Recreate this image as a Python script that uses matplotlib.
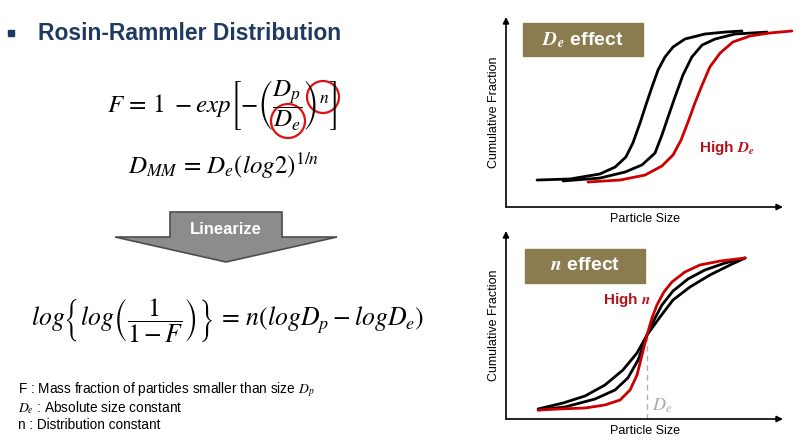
import matplotlib
matplotlib.use('Agg')
import matplotlib.pyplot as plt
from matplotlib.patches import Rectangle, Circle, Polygon

plt.rcParams['font.family'] = ['Liberation Sans', 'DejaVu Sans']
plt.rcParams['mathtext.fontset'] = 'stix'

# curvas (tamanho da particula, fracao acumulada)
# efeito de D_e
de_small_x = [1.12, 2.31, 3.39, 3.94, 4.33, 4.58, 4.84, 5.05, 5.27, 5.49, 5.74, 6.03, 6.46, 7.18, 7.91, 8.52]
de_small_y = [0.013, 0.020, 0.053, 0.099, 0.166, 0.258, 0.391, 0.510, 0.629, 0.742, 0.828, 0.894, 0.947, 0.980, 0.993, 1.000]
de_mid_x = [2.06, 3.39, 4.30, 4.91, 5.38, 5.63, 5.85, 6.10, 6.39, 6.71, 7.08, 7.55, 8.27, 9.42]
de_mid_y = [0.007, 0.026, 0.066, 0.113, 0.192, 0.311, 0.430, 0.563, 0.709, 0.828, 0.907, 0.947, 0.980, 0.993]
de_high_x = [2.96, 4.12, 5.02, 5.63, 6.03, 6.32, 6.57, 6.82, 7.08, 7.36, 7.73, 8.19, 8.81, 9.53, 10.32]
de_high_y = [0.000, 0.013, 0.046, 0.106, 0.179, 0.278, 0.397, 0.523, 0.642, 0.762, 0.854, 0.927, 0.967, 0.987, 1.000]

# efeito de n
n_low_x = [1.16, 2.06, 2.85, 3.57, 4.22, 4.73, 5.09, 5.56, 6.03, 6.64, 7.36, 8.09, 8.63]
n_low_y = [0.007, 0.046, 0.092, 0.164, 0.263, 0.375, 0.493, 0.612, 0.724, 0.809, 0.888, 0.954, 1.000]
n_mid_x = [1.16, 2.13, 3.21, 3.94, 4.40, 4.77, 5.09, 5.38, 5.63, 6.03, 6.57, 7.18, 7.91, 8.63]
n_mid_y = [0.000, 0.020, 0.072, 0.132, 0.211, 0.329, 0.493, 0.605, 0.691, 0.783, 0.862, 0.921, 0.967, 1.000]
n_high_x = [1.16, 1.95, 2.85, 3.57, 4.12, 4.48, 4.73, 4.91, 5.09, 5.27, 5.45, 5.70, 5.99, 6.46, 7.00, 7.73, 8.63]
n_high_y = [0.000, 0.007, 0.013, 0.033, 0.066, 0.132, 0.230, 0.362, 0.493, 0.605, 0.691, 0.776, 0.842, 0.908, 0.954, 0.980, 1.000]
de_value = 5.09  # ponto onde as curvas de n se cruzam

navy = '#1f3a60'
olive = '#8a7c4f'
red = '#cc0000'

fig = plt.figure(figsize=(8.05, 4.43), dpi=100)

# eixo de fundo em pixels para o slide
bg = fig.add_axes([0, 0, 1, 1])
bg.set_xlim(0, 805)
bg.set_ylim(443, 0)
bg.axis('off')

# titulo
bg.add_patch(Rectangle((8, 30), 6, 6, color=navy))
bg.text(38, 33, 'Rosin-Rammler Distribution', fontsize=16.5, fontweight='bold',
        color=navy, ha='left', va='center')

# equacoes
bg.text(107, 106, r'$F\,=\,1\ -exp\left[-\left(\dfrac{D_p}{D_e}\right)^{n}\right]$',
        fontsize=18, ha='left', va='center')
bg.text(128, 166, r'$D_{MM}\,=\,D_e(log2)^{1/n}$', fontsize=18, ha='left', va='center')
bg.add_patch(Circle((323, 97), 16, fill=False, edgecolor='#e01010', lw=1.6))
bg.add_patch(Circle((288, 121), 17, fill=False, edgecolor='#e01010', lw=1.6))

# seta "Linearize"
arrow_pts = [(170, 212), (282, 212), (282, 237), (337, 237), (226, 262), (115, 237), (170, 237)]
bg.add_patch(Polygon(arrow_pts, closed=True, facecolor='#8c8c8c', edgecolor='#4d4d4d', lw=1.2))
bg.text(226, 229, 'Linearize', fontsize=12, fontweight='bold', color='white',
        ha='center', va='center')

bg.text(31, 321, r'$log\left\{log\left(\dfrac{1}{1-F}\right)\right\}\,=\,n(logD_p - logD_e)$',
        fontsize=18.5, ha='left', va='center')

# legenda das variaveis
bg.text(18, 390, r'F : Mass fraction of particles smaller than size $D_p$', fontsize=9.8, ha='left', va='center')
bg.text(18, 408, r'$D_e$ : Absolute size constant', fontsize=9.8, ha='left', va='center')
bg.text(18, 425, 'n : Distribution constant', fontsize=9.8, ha='left', va='center')


def setup_axes(ax, ylim): # eixos com setas, sem ticks
    ax.set_xlim(0, 10)
    ax.set_ylim(*ylim)
    for s in ax.spines.values():
        s.set_visible(False)
    ax.set_xticks([])
    ax.set_yticks([])
    ax.patch.set_alpha(0)
    arrow = dict(arrowstyle='-|>', color='black', lw=1.2, mutation_scale=9, shrinkA=0, shrinkB=0)
    ax.annotate('', xy=(1, 0), xytext=(0, 0), xycoords='axes fraction', arrowprops=arrow)
    ax.annotate('', xy=(0, 1), xytext=(0, 0), xycoords='axes fraction', arrowprops=arrow)
    ax.set_xlabel('Particle Size', fontsize=9, labelpad=4)
    ax.set_ylabel('Cumulative Fraction', fontsize=9, labelpad=4)


# grafico de D_e
ax1 = fig.add_axes([506 / 805, 1 - 207 / 443, 277 / 805, 190 / 443])
setup_axes(ax1, (-0.1656, 1.0927))
ax1.plot(de_small_x, de_small_y, color='black', lw=2, clip_on=False, solid_capstyle='round')
ax1.plot(de_mid_x, de_mid_y, color='black', lw=2, clip_on=False, solid_capstyle='round')
ax1.plot(de_high_x, de_high_y, color=red, lw=2, clip_on=False, solid_capstyle='round')

# grafico de n
ax2 = fig.add_axes([506 / 805, 1 - 419 / 443, 277 / 805, 188 / 443])
setup_axes(ax2, (-0.0592, 1.1776))
ax2.plot([de_value, de_value], [-0.0592, 0.493], color='#b0b0b0', lw=1, ls=(0, (4, 3)))
ax2.plot(n_low_x, n_low_y, color='black', lw=2, clip_on=False, solid_capstyle='round')
ax2.plot(n_mid_x, n_mid_y, color='black', lw=2, clip_on=False, solid_capstyle='round')
ax2.plot(n_high_x, n_high_y, color=red, lw=2, clip_on=False, solid_capstyle='round')

# caixas e rotulos dos graficos
bg.add_patch(Rectangle((523, 23), 120, 33, color=olive))
bg.text(583, 40, r'$\mathbfit{D_e}$ effect', fontsize=14, fontweight='bold', color='white',
        ha='center', va='center')
bg.add_patch(Rectangle((525, 249), 120, 34, color=olive))
bg.text(585, 266, r'$\mathbfit{n}$ effect', fontsize=14, fontweight='bold', color='white',
        ha='center', va='center')
bg.text(727, 148, r'High $\mathbfit{D_e}$', fontsize=11, fontweight='bold', color='#b5121b',
        ha='center', va='center')
bg.text(627, 300, r'High $\mathbfit{n}$', fontsize=11, fontweight='bold', color='#b5121b',
        ha='center', va='center')
bg.text(662, 406, r'$D_e$', fontsize=13, color='#a8a8a8', ha='center', va='center')

fig.savefig('out.png', dpi=100)
